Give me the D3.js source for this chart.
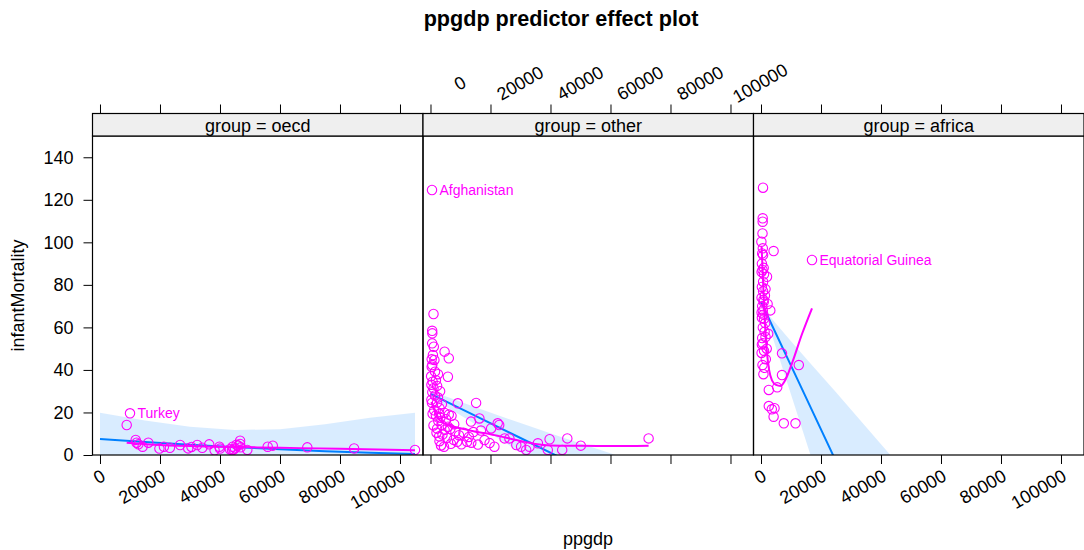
<!DOCTYPE html>
<html><head><meta charset="utf-8">
<script src="https://cdn.jsdelivr.net/npm/d3@7"></script>
<style>body{margin:0;background:#fff} svg{display:block} text{font-family:"Liberation Sans",Arial,sans-serif}</style>
</head><body><svg id="c" width="1084" height="550"></svg>
<script>
// ---------------- data ----------------
const groups = ["oecd", "other", "africa"];
const xTickValues = [0, 20000, 40000, 60000, 80000, 100000];
const yTickValues = [0, 20, 40, 60, 80, 100, 120, 140];

// partial residual points
const oecdPpgdp = [8900,11900,12200,12800,14200,16100,19800,21300,23300,26700,29400,30500,32400,34100,36400,38200,39800,40000,43300,44000,44200,44500,45000,45500,46100,46700,46700,46900,49100,55900,57600,69100,84700,105000];
const oecdMortality = [14.1,7.1,5.8,5.0,3.9,5.8,3.0,3.9,3.4,4.7,3.1,3.8,4.7,3.4,5.0,2.2,3.9,3.0,2.7,2.3,3.9,2.6,3.1,4.8,4.4,6.7,5.2,3.6,2.4,3.9,4.4,3.6,3.1,2.4];

const otherPpgdp = [1000,560,600,560,1100,4700,6100,800,1300,600,400,1500,5800,700,1800,2200,1000,300,500,2200,3800,9100,15200,700,1800,2900,4700,6100,7000,16300,13500,22400,22900,20200,1000,2200,3700,4700,5800,7900,2900,4000,5500,7700,18000,19700,21300,3500,4500,8900,12200,24700,26300,28600,30200,31900,33000,35800,39700,39100,43900,45600,50100,72700,1500,2500,3000,1200,2600,3300,5200,6600,8300,9500,11000,12800,14300,10300,6800,2000,3000,13600,15800,16800,300,200,400,2500,3200,600];
const otherMortality = [66.3,58.4,57.2,52.5,50.9,48.6,45.5,47.0,44.7,42.3,41.5,39.2,36.8,34.5,35.2,32.5,31.4,33.0,24.5,24.7,23.9,24.3,24.5,19.4,18.6,19.3,19.8,19.0,18.4,17.2,15.7,14.9,14.1,12.5,13.9,12.4,14.1,11.8,13.3,14.5,8.8,9.6,8.1,7.1,7.0,5.6,3.9,4.5,3.9,6.2,6.2,7.8,7.8,4.7,3.9,2.4,3.9,5.5,7.4,2.4,2.4,7.8,4.4,7.8,28.0,27.0,22.0,21.0,16.0,17.5,16.8,12.2,11.0,9.3,10.5,8.5,10.8,5.0,5.3,10.5,6.5,5.8,4.9,11.5,26.0,37.0,45.0,38.0,30.0,29.5];

const africaPpgdp = [670,570,560,500,130,600,400,700,4200,500,200,1000,2000,700,1500,300,200,800,900,2200,3100,600,300,1000,600,1500,400,600,1000,200,7000,500,1100,12600,7000,2600,5400,2600,3600,4500,4200,7600,11500,300,900,1300,400,800,1200,300,1600,800,1400,200,700,2400,1900];
const africaMortality = [125.7,111.3,109.7,104.2,100.3,97.2,94.8,94.0,95.9,87.0,86.0,85.0,83.8,81.5,78.0,79.0,74.0,72.9,72.0,71.0,68.0,68.0,64.5,64.0,60.0,55.5,55.0,52.6,49.0,48.0,47.8,42.3,41.0,42.3,37.6,30.6,31.8,23.0,21.5,22.0,18.0,14.9,14.9,90.0,88.0,75.0,70.0,66.0,58.0,52.0,45.0,38.0,62.0,67.0,77.0,57.0,50.0];

// labelled points
const labelNames = ["Turkey", "Afghanistan", "Equatorial Guinea"];
const labelGroups = ["oecd", "other", "africa"];
const labelPpgdp = [10000, 500, 17000];
const labelMortality = [19.6, 124.6, 91.7];

// fitted effect, confidence band
const oecdFitX = [0,15000,30000,45000,60000,75000,90000,105000];
const oecdFit = [7.5,6.1,4.8,3.7,2.7,1.8,1.1,0.5];
const oecdUpper = [19.9,16.2,13.3,11.8,12.1,14.5,17.5,19.9];
const oecdLower = [-5,-4,-3,-4,-6,-9,-13,-18];

const otherFitX = [0,15000,30000,45000,60000,75000,90000,105000];
const otherFit = [28.7,18.4,8.0,-2.4,-12.7,-23,-33,-44];
const otherUpper = [30.2,22.5,15.0,7.8,0.8,-6.5,-14,-22];
const otherLower = [27.2,14.5,1.2,-13,-27,-40,-53,-66];

const africaFitX = [0,1500,10000,16500,25000,40000,60000,105000];
const africaFit = [72,67.5,42,22.5,-3,-48,-108,-243];
const africaUpper = [73.5,67.6,53.5,43,29.5,5,-27,-100];
const africaLower = [71,65.8,28.4,0,-37,-100,-185,-380];

// smoothed residuals
const oecdSmoothX = [8900,20000,40000,60000,80000,105000];
const oecdSmooth = [5.8,4.7,3.9,3.4,2.9,2.2];
const otherSmoothX = [300,1500,3000,6000,10000,15000,20000,25000,30000,35000,40000,50000,60000,72700];
const otherSmooth = [25,20.5,16.5,14,12.6,10.9,9.8,8.2,6.6,5.2,4.5,4.3,4.2,4.4];
const africaSmoothX = [200,500,800,1100,1500,2000,2700,3700,5000,6500,8000,10300,13700,17000];
const africaSmooth = [98,88,78,68,58,48,40,35,33,32.5,35,43,57,69];

// ---------------- layout ----------------
const svg = d3.select("#c");
const magenta = "#FF00FF", blue = "#0080FF";
const panelLeft0 = 92.5, panelW = 330.5;
const stripTop = 113.5, stripBottom = 136, panelBottom = 455;
const font = '"Liberation Sans", Arial, sans-serif';

const y = d3.scaleLinear().domain([0, 150]).range([panelBottom, stripBottom]);

const data = {
  oecd:   {px: oecdPpgdp, py: oecdMortality, fx: oecdFitX, fit: oecdFit, up: oecdUpper, lo: oecdLower, sx: oecdSmoothX, sy: oecdSmooth},
  other:  {px: otherPpgdp, py: otherMortality, fx: otherFitX, fit: otherFit, up: otherUpper, lo: otherLower, sx: otherSmoothX, sy: otherSmooth},
  africa: {px: africaPpgdp, py: africaMortality, fx: africaFitX, fit: africaFit, up: africaUpper, lo: africaLower, sx: africaSmoothX, sy: africaSmooth}
};

// title
svg.append("text").attr("x", 561).attr("y", 26).attr("text-anchor", "middle")
  .attr("font-size", 21.6).attr("font-weight", "bold").text("ppgdp predictor effect plot");

// axis labels
svg.append("text").attr("x", 588).attr("y", 545).attr("text-anchor", "middle")
  .attr("font-size", 18).text("ppgdp");
svg.append("text").attr("transform", `translate(24,${(stripBottom + panelBottom) / 2}) rotate(-90)`)
  .attr("text-anchor", "middle").attr("font-size", 18).text("infantMortality");

const defs = svg.append("defs");

groups.forEach((g, i) => {
  const left = panelLeft0 + i * panelW;
  const x = d3.scaleLinear().domain([-2500, 107667]).range([left, left + panelW]);
  const d = data[g];

  defs.append("clipPath").attr("id", "clip" + i).append("rect")
    .attr("x", left).attr("y", stripBottom).attr("width", panelW).attr("height", panelBottom - stripBottom);

  const pg = svg.append("g").attr("clip-path", `url(#clip${i})`);

  // band
  const bandData = d.fx.map((v, k) => ({x: v, lo: d.lo[k], up: d.up[k]}));
  pg.append("path").datum(bandData)
    .attr("d", d3.area().x(p => x(p.x)).y0(p => y(p.lo)).y1(p => y(p.up)))
    .attr("fill", blue).attr("fill-opacity", 0.15);

  // fit line
  const fitData = d.fx.map((v, k) => ({x: v, y: d.fit[k]}));
  pg.append("path").datum(fitData)
    .attr("d", d3.line().x(p => x(p.x)).y(p => y(p.y)))
    .attr("fill", "none").attr("stroke", blue).attr("stroke-width", 2);

  // points
  const pts = d.px.map((v, k) => ({x: v, y: d.py[k]}));
  pg.selectAll("circle.pt").data(pts).enter().append("circle")
    .attr("cx", p => x(p.x)).attr("cy", p => y(p.y)).attr("r", 4.7)
    .attr("fill", "none").attr("stroke", magenta).attr("stroke-width", 1.1);

  // labelled points
  labelNames.forEach((n, k) => {
    if (labelGroups[k] !== g) return;
    pg.append("circle").attr("cx", x(labelPpgdp[k])).attr("cy", y(labelMortality[k])).attr("r", 4.7)
      .attr("fill", "none").attr("stroke", magenta).attr("stroke-width", 1.1);
    pg.append("text").attr("x", x(labelPpgdp[k]) + 7.5).attr("y", y(labelMortality[k]))
      .attr("dy", "0.35em").attr("font-size", 14).attr("fill", magenta).text(n);
  });

  // smooth
  const smData = d.sx.map((v, k) => ({x: v, y: d.sy[k]}));
  pg.append("path").datum(smData)
    .attr("d", d3.line().curve(d3.curveMonotoneX).x(p => x(p.x)).y(p => y(p.y)))
    .attr("fill", "none").attr("stroke", magenta).attr("stroke-width", 2);

  // panel border
  svg.append("rect").attr("x", left).attr("y", stripBottom).attr("width", panelW)
    .attr("height", panelBottom - stripBottom).attr("fill", "none").attr("stroke", "#000").attr("stroke-width", 1.2);

  // strip
  svg.append("rect").attr("x", left).attr("y", stripTop).attr("width", panelW)
    .attr("height", stripBottom - stripTop).attr("fill", "#efefef").attr("stroke", "#000").attr("stroke-width", 1.2);
  svg.append("text").attr("x", left + panelW / 2).attr("y", stripBottom - 4.5)
    .attr("text-anchor", "middle").attr("font-size", 18).text("group = " + g);

  // bottom axis
  const ab = svg.append("g").attr("transform", `translate(0,${panelBottom})`)
    .call(d3.axisBottom(x).tickValues(xTickValues).tickSize(9).tickFormat(d3.format("d")));
  ab.select(".domain").remove();
  ab.selectAll(".tick line").attr("stroke", "#000");
  if (i === 1) ab.selectAll("text").remove();
  else ab.selectAll("text").attr("y", null).attr("dy", "0.35em").attr("text-anchor", "end")
    .attr("transform", "translate(3,19) rotate(-30)").attr("font-size", 18).attr("font-family", font).attr("fill", "#000");

  // top axis
  const at = svg.append("g").attr("transform", `translate(0,${stripTop})`)
    .call(d3.axisTop(x).tickValues(xTickValues).tickSize(9).tickFormat(d3.format("d")));
  at.select(".domain").remove();
  at.selectAll(".tick line").attr("stroke", "#000");
  if (i !== 1) at.selectAll("text").remove();
  else at.selectAll("text").attr("y", null).attr("dy", "0.35em").attr("text-anchor", "middle")
    .attr("transform", "translate(29,-30.5) rotate(-30)").attr("font-size", 18).attr("font-family", font).attr("fill", "#000");

  if (i === 0) {
    const al = svg.append("g").attr("transform", `translate(${left},0)`)
      .call(d3.axisLeft(y).tickValues(yTickValues).tickSize(9).tickPadding(10));
    al.select(".domain").remove();
    al.selectAll(".tick line").attr("stroke", "#000");
    al.selectAll("text").attr("font-size", 18).attr("font-family", font).attr("fill", "#000");
  }
});
</script></body></html>
